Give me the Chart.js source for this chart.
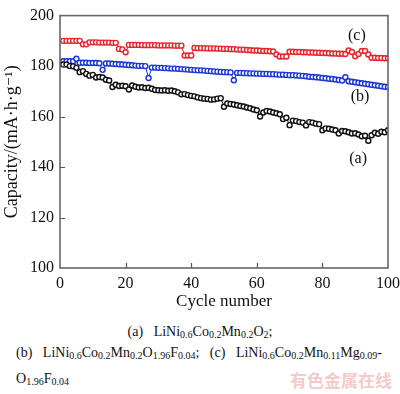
<!DOCTYPE html>
<html>
<head>
<meta charset="utf-8">
<script src="https://cdn.jsdelivr.net/npm/chart.js@4"></script>
<style>
  html, body { margin: 0; padding: 0; background: #fff; width: 400px; height: 394px; overflow: hidden; }
  #wrap { position: absolute; left: 0; top: 0; width: 400px; height: 312px; }
  .cap { position: absolute; font-family: "Liberation Serif", "DejaVu Serif", serif; font-size: 14px; color: #111; white-space: nowrap; line-height: 16px; }
  .cap sub { font-size: 10px; vertical-align: -2px; line-height: 0; }
  #wm { position: absolute; left: 290px; top: 367px; font-family: "Noto Sans CJK SC", sans-serif; font-size: 17px; font-weight: bold; color: #f4caca; white-space: nowrap; letter-spacing: 0px; }
</style>
</head>
<body>
<div id="wrap"><canvas id="c"></canvas></div>
<div class="cap" style="left:0; width:400px; text-align:center; top:324px;">(a)&nbsp;&nbsp;&nbsp;LiNi<sub>0.6</sub>Co<sub>0.2</sub>Mn<sub>0.2</sub>O<sub>2</sub>;</div>
<div class="cap" style="left:16px; top:345px;">(b)&nbsp;&nbsp;&nbsp;LiNi<sub>0.6</sub>Co<sub>0.2</sub>Mn<sub>0.2</sub>O<sub>1.96</sub>F<sub>0.04</sub>;&nbsp;&nbsp;&nbsp;(c)&nbsp;&nbsp;&nbsp;LiNi<sub>0.6</sub>Co<sub>0.2</sub>Mn<sub>0.11</sub>Mg<sub>0.09</sub>-</div>
<div class="cap" style="left:16px; top:371px;">O<sub>1.96</sub>F<sub>0.04</sub></div>
<div id="wm">有色金属在线</div>
<script>
// Cycle numbers 1..100
const cycles = [];
for (let i = 1; i <= 100; i++) cycles.push(i);

// (a) LiNi0.6Co0.2Mn0.2O2 - black
const seriesA = [
  180.6,180.6,180.0,179.9,179.3,177.6,178.0,176.9,176.2,176.5,
  175.5,175.7,175.5,174.6,174.3,171.7,172.6,172.1,172.2,172.0,
  170.7,172.3,171.8,171.5,171.6,171.3,171.4,171.0,170.5,170.4,
  170.3,170.4,170.2,170.3,170.0,169.6,168.8,168.9,168.5,168.2,
  168.0,167.6,167.3,167.1,167.0,166.7,166.8,167.1,167.3,163.9,
  165.2,165.0,164.8,164.5,164.2,164.0,163.6,163.3,162.8,162.5,
  160.0,161.6,162.2,162.0,161.6,161.3,160.9,159.0,159.5,156.6,
  158.4,158.2,157.8,157.6,156.5,157.8,157.6,157.2,157.0,154.6,
  155.3,155.2,154.9,154.6,153.3,154.3,154.2,153.8,153.3,153.4,
  152.9,152.2,152.4,150.4,152.6,153.6,153.2,154.0,153.8,154.6
];

// (b) LiNi0.6Co0.2Mn0.2O1.96F0.04 - blue
const seriesB = [
  181.9,181.9,181.9,181.9,182.9,181.3,181.3,181.3,181.2,181.2,
  181.2,181.1,178.5,181.0,181.0,180.9,180.8,180.7,180.6,180.5,
  180.4,180.3,180.2,180.1,180.1,180.0,175.3,179.4,179.4,179.3,
  179.3,179.2,179.1,179.0,179.0,178.9,178.8,178.7,178.6,178.5,
  178.4,178.3,178.3,178.2,178.1,178.0,177.9,177.8,177.7,177.6,
  177.6,177.5,174.4,177.3,177.3,177.2,177.2,177.1,177.1,177.0,
  177.0,176.9,176.9,176.8,176.8,176.7,176.6,176.6,176.5,176.4,
  176.4,176.3,176.2,176.1,176.0,175.8,175.7,175.6,175.5,175.3,
  175.2,175.0,174.9,174.7,174.5,174.3,175.6,174.0,173.8,173.6,
  173.4,173.2,173.0,172.8,172.6,172.4,172.2,172.0,171.8,171.7
];

// (c) LiNi0.6Co0.2Mn0.11Mg0.09O1.96F0.04 - red
const seriesC = [
  190.0,190.0,190.0,190.0,190.0,190.0,188.6,188.6,189.4,189.4,
  189.4,189.3,189.3,189.3,189.3,189.2,189.2,186.8,186.6,185.5,
  188.4,188.4,188.4,188.4,188.3,188.3,188.3,188.3,188.3,188.2,
  188.2,188.2,188.2,188.2,188.1,188.1,188.1,184.2,184.2,184.2,
  187.2,187.1,187.1,187.1,187.0,187.0,187.0,186.9,186.9,186.8,
  186.8,186.7,186.7,186.6,186.5,186.5,186.4,186.3,186.2,186.2,
  186.1,186.0,186.0,185.9,185.8,184.6,183.8,183.8,183.8,185.7,
  185.7,185.6,185.6,185.5,185.5,185.4,185.4,185.3,185.3,185.2,
  185.2,185.1,185.0,185.0,184.9,184.9,184.8,186.2,185.6,183.9,
  184.8,186.0,186.0,184.6,183.3,183.3,183.2,183.2,183.1,183.1
];

const xTicks = [0, 20, 40, 60, 80, 100];
const yTicks = [100, 120, 140, 160, 180, 200];

const seriesLabels = ['(a)', '(b)', '(c)'];
const labelPos = [ [90.9, 143.3], [91.5, 167.7], [90.5, 192.0] ];

const serif = '"Liberation Serif", "DejaVu Serif", serif';

function pts(arr) { return arr.map((v, i) => ({ x: cycles[i], y: v })); }

function ds(label, arr, color) {
  return {
    label: label,
    data: pts(arr),
    showLine: true,
    borderColor: color,
    borderWidth: 1,
    pointRadius: 2.5,
    pointBorderWidth: 1.4,
    pointBorderColor: color,
    pointBackgroundColor: '#ffffff',
    pointHoverRadius: 2.5
  };
}

const framePlugin = {
  id: 'frame',
  afterDraw(chart) {
    const { ctx, chartArea: a, scales } = chart;
    ctx.save();
    // inward tick marks
    ctx.strokeStyle = '#555';
    ctx.lineWidth = 1.2;
    ctx.beginPath();
    xTicks.forEach(v => {
      if (v === xTicks[0] || v === xTicks[xTicks.length - 1]) return;
      const px = Math.round(scales.x.getPixelForValue(v)) + 0.5;
      ctx.moveTo(px, a.bottom); ctx.lineTo(px, a.bottom - 5);
    });
    yTicks.forEach(v => {
      if (v === yTicks[0] || v === yTicks[yTicks.length - 1]) return;
      const py = Math.round(scales.y.getPixelForValue(v)) + 0.5;
      ctx.moveTo(a.left, py); ctx.lineTo(a.left + 5, py);
    });
    ctx.stroke();
    // frame
    ctx.strokeStyle = '#666';
    ctx.lineWidth = 1.6;
    ctx.strokeRect(a.left, a.top, a.right - a.left, a.bottom - a.top);
    // series labels
    ctx.fillStyle = '#111';
    ctx.font = '16px ' + serif;
    ctx.textAlign = 'center';
    ctx.textBaseline = 'middle';
    seriesLabels.forEach((t, i) => {
      ctx.fillText(t, scales.x.getPixelForValue(labelPos[i][0]), scales.y.getPixelForValue(labelPos[i][1]));
    });
    ctx.restore();
  }
};

new Chart(document.getElementById('c'), {
  type: 'scatter',
  data: {
    datasets: [
      ds('(a)', seriesA, '#111111'),
      ds('(b)', seriesB, '#1a35d8'),
      ds('(c)', seriesC, '#e8232a')
    ]
  },
  options: {
    responsive: true,
    maintainAspectRatio: false,
    devicePixelRatio: 1,
    animation: false,
    events: [],
    layout: { padding: { left: 0, right: 0, top: 4, bottom: 0 } },
    plugins: { legend: { display: false }, tooltip: { enabled: false } },
    scales: {
      x: {
        type: 'linear',
        min: 0, max: 100,
        afterFit(s) { s.height = 44; s.paddingRight = 12; },
        afterBuildTicks(s) { s.ticks = xTicks.map(v => ({ value: v })); },
        grid: { display: false, drawTicks: false },
        border: { display: false },
        ticks: { padding: 6, color: '#111', font: { family: serif, size: 16 }, maxRotation: 0 },
        title: { display: true, text: 'Cycle number', color: '#111', font: { family: serif, size: 17 }, padding: { top: 0, bottom: 0 } }
      },
      y: {
        type: 'linear',
        min: 100, max: 200,
        afterFit(s) { s.width = 60; },
        afterBuildTicks(s) { s.ticks = yTicks.map(v => ({ value: v })); },
        grid: { display: false, drawTicks: false },
        border: { display: false },
        ticks: { padding: 6, color: '#111', font: { family: serif, size: 16 } },
        title: { display: true, text: 'Capacity/(mA\u00B7h\u00B7g\u207B\u00B9)', color: '#111', font: { family: serif, size: 18 }, padding: { top: 1, bottom: 0 } }
      }
    }
  },
  plugins: [framePlugin]
});
</script>
</body>
</html>
